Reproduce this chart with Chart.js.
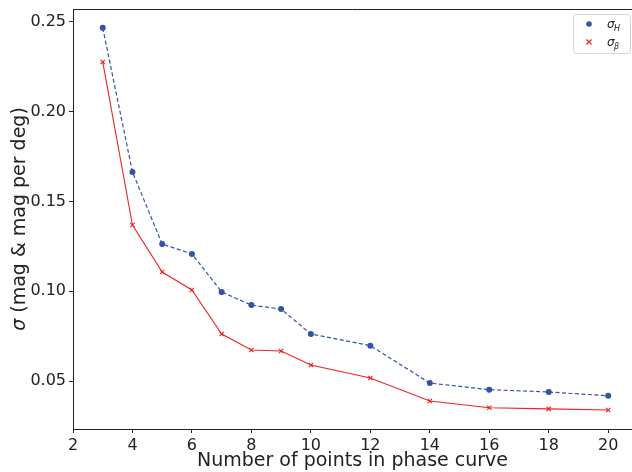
<!DOCTYPE html>
<html>
<head>
<meta charset="utf-8">
<script src="https://cdn.jsdelivr.net/npm/chart.js@4/dist/chart.umd.min.js"></script>
<style>
  html, body { margin: 0; padding: 0; background: #fff; }
  canvas { display: block; }
</style>
</head>
<body>
<canvas id="phaseChart" width="632" height="472"></canvas>
<script>
// number of points in the phase curve
const nPoints = [3, 4, 5, 6, 7, 8, 9, 10, 12, 14, 16, 18, 20];
// sigma_H and sigma_beta
const sigmaH    = [0.2467, 0.1664, 0.1263, 0.1208, 0.0996, 0.0923, 0.0901, 0.0762, 0.0697, 0.0489, 0.0452, 0.0439, 0.0418];
const sigmaBeta = [0.2277, 0.1369, 0.1107, 0.1007, 0.0762, 0.0673, 0.0667, 0.0589, 0.0517, 0.0389, 0.0351, 0.0345, 0.0339];
const xTicks = [2, 4, 6, 8, 10, 12, 14, 16, 18, 20];
const yTicks = [0.05, 0.10, 0.15, 0.20, 0.25];

const blue = '#3353a6';
const red = '#ee2424';
const font = 'DejaVu Sans';

const toXY = (ys) => nPoints.map((x, i) => ({ x: x, y: ys[i] }));

// top spine, y title with italic sigma, matplotlib style legend
const framePlugin = {
    id: 'frame',
    afterDraw(chart) {
        const ctx = chart.ctx;
        const a = chart.chartArea;
        ctx.save();
        ctx.strokeStyle = '#222';
        ctx.lineWidth = 1;
        ctx.beginPath();
        ctx.moveTo(a.left, a.top + 0.5);
        ctx.lineTo(a.right, a.top + 0.5);
        ctx.stroke();

        // y title
        ctx.save();
        ctx.translate(25, (a.top + a.bottom) / 2);
        ctx.rotate(-Math.PI / 2);
        ctx.fillStyle = '#222';
        ctx.textBaseline = 'alphabetic';
        const rest = ' (mag & mag per deg)';
        ctx.font = 'italic 19px "' + font + '"';
        const w1 = ctx.measureText('σ').width;
        ctx.font = '19px "' + font + '"';
        const w2 = ctx.measureText(rest).width;
        const x0 = -(w1 + w2) / 2;
        ctx.font = 'italic 19px "' + font + '"';
        ctx.fillText('σ', x0, 0);
        ctx.font = '19px "' + font + '"';
        ctx.fillText(rest, x0 + w1, 0);
        ctx.restore();

        // legend box
        const lx = 573, ly = 14, lw = 57, lh = 39;
        ctx.strokeStyle = '#d6d6d6';
        ctx.fillStyle = 'rgba(255,255,255,0.8)';
        ctx.beginPath();
        ctx.roundRect(lx + 0.5, ly + 0.5, lw, lh, 3);
        ctx.fill();
        ctx.stroke();

        // entry 1: blue dot
        ctx.fillStyle = blue;
        ctx.beginPath();
        ctx.arc(589, 24, 2.8, 0, Math.PI * 2);
        ctx.fill();
        // entry 2: red x
        ctx.strokeStyle = red;
        ctx.lineWidth = 1.2;
        ctx.beginPath();
        ctx.moveTo(586.5, 39.5); ctx.lineTo(591.5, 44.5);
        ctx.moveTo(591.5, 39.5); ctx.lineTo(586.5, 44.5);
        ctx.stroke();

        ctx.fillStyle = '#222';
        ctx.textBaseline = 'alphabetic';
        ctx.font = 'italic 12px "' + font + '"';
        ctx.fillText('σ', 607, 28);
        ctx.fillText('σ', 607, 46);
        ctx.font = 'italic 8px "' + font + '"';
        ctx.fillText('H', 614, 31);
        ctx.fillText('β', 614, 49);
        ctx.restore();
    }
};

new Chart(document.getElementById('phaseChart'), {
    type: 'line',
    data: {
        datasets: [
            {
                label: 'σH',
                data: toXY(sigmaH),
                borderColor: blue,
                backgroundColor: blue,
                borderWidth: 1.2,
                borderDash: [4, 2.5],
                pointStyle: 'circle',
                pointRadius: 3,
                pointBorderWidth: 0,
                tension: 0
            },
            {
                label: 'σβ',
                data: toXY(sigmaBeta),
                borderColor: red,
                backgroundColor: red,
                borderWidth: 1.1,
                pointStyle: 'crossRot',
                pointRadius: 3,
                pointBorderWidth: 1.2,
                tension: 0
            }
        ]
    },
    options: {
        responsive: false,
        animation: false,
        layout: { autoPadding: false, padding: { top: 9, right: 0, left: 0, bottom: 0 } },
        plugins: {
            legend: { display: false },
            tooltip: { enabled: false }
        },
        scales: {
            x: {
                type: 'linear',
                min: 2,
                max: 20.8,
                afterBuildTicks: (s) => { s.ticks = xTicks.map(v => ({ value: v })); },
                afterFit: (s) => { s.height = 43; s.paddingLeft = 0; s.paddingRight = 0; },
                grid: { drawOnChartArea: false, drawTicks: true, tickLength: 4, color: '#222' },
                border: { display: true, color: '#222', width: 1 },
                ticks: { color: '#222', font: { family: font, size: 16 }, padding: 3, maxRotation: 0 },
                title: {
                    display: true,
                    text: 'Number of points in phase curve',
                    color: '#222',
                    font: { family: font, size: 19 },
                    padding: { top: 2, bottom: 0 }
                }
            },
            y: {
                type: 'linear',
                min: 0.0233,
                max: 0.2572,
                afterBuildTicks: (s) => { s.ticks = yTicks.map(v => ({ value: v })); },
                afterFit: (s) => { s.width = 73; s.paddingTop = 0; s.paddingBottom = 0; },
                grid: { drawOnChartArea: false, drawTicks: true, tickLength: 4, color: '#222' },
                border: { display: true, color: '#222', width: 1 },
                ticks: {
                    color: '#222',
                    font: { family: font, size: 16 },
                    padding: 3,
                    callback: (v) => v.toFixed(2)
                }
            }
        }
    },
    plugins: [framePlugin]
});
</script>
</body>
</html>
